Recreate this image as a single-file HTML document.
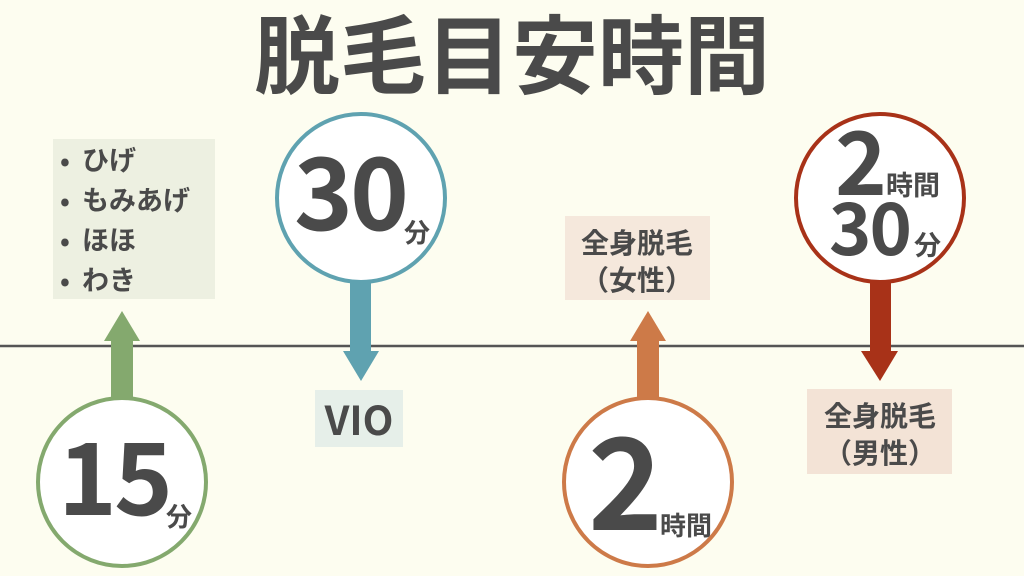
<!DOCTYPE html>
<html><head><meta charset="utf-8"><style>
html,body{margin:0;padding:0;background:#fdfdf0;}
svg{display:block}
text{font-family:"Liberation Sans","Noto Sans CJK JP",sans-serif;font-weight:bold;fill:#4a4a4a}
.j{font-family:"Noto Sans CJK JP",sans-serif}
</style></head><body>
<svg width="1024" height="576" viewBox="0 0 1024 576" xmlns="http://www.w3.org/2000/svg">
<rect width="1024" height="576" fill="#fdfdf0"/>
<text class="j" x="512" y="87" font-size="86" text-anchor="middle">脱毛目安時間</text>
<line x1="0" y1="346" x2="1024" y2="346" stroke="#555" stroke-width="2.5"/>

<!-- green -->
<rect x="53" y="139" width="162" height="160" fill="#edf0e1"/>
<text class="j" x="60" y="170" font-size="26">•</text><text class="j" x="82" y="170" font-size="27">ひげ</text>
<text class="j" x="60" y="210" font-size="26">•</text><text class="j" x="82" y="210" font-size="27">もみあげ</text>
<text class="j" x="60" y="250" font-size="26">•</text><text class="j" x="82" y="250" font-size="27">ほほ</text>
<text class="j" x="60" y="290" font-size="26">•</text><text class="j" x="82" y="290" font-size="27">わき</text>
<rect x="111" y="340" width="22" height="60" fill="#84a96e"/>
<polygon points="104,341 140,341 122,311" fill="#84a96e"/>
<circle cx="122" cy="482" r="84" fill="#fff" stroke="#84a96e" stroke-width="4"/>
<text class="j" x="58" y="515" font-size="100" letter-spacing="-3">15</text>
<text class="j" x="166" y="526" font-size="26">分</text>

<!-- teal -->
<rect x="350" y="280" width="21" height="72" fill="#5fa2b0"/>
<polygon points="343,351 379,351 361,381" fill="#5fa2b0"/>
<circle cx="361" cy="198" r="84" fill="#fff" stroke="#5fa2b0" stroke-width="4"/>
<text class="j" x="294" y="230" font-size="100" letter-spacing="-3">30</text>
<text class="j" x="404" y="242" font-size="26">分</text>
<rect x="315" y="390" width="88" height="57" fill="#e6efe9"/>
<text class="j" x="359" y="435" font-size="40" text-anchor="middle">VIO</text>

<!-- orange -->
<rect x="565" y="216" width="145" height="84" fill="#f5e8dc"/>
<text class="j" x="637" y="253" font-size="28" text-anchor="middle">全身脱毛</text>
<text class="j" x="637" y="290" font-size="28" text-anchor="middle">（女性）</text>
<rect x="637" y="340" width="22" height="60" fill="#cd7a48"/>
<polygon points="630,341 666,341 648,311" fill="#cd7a48"/>
<circle cx="648" cy="482" r="84" fill="#fff" stroke="#cd7a48" stroke-width="4"/>
<text class="j" x="588" y="530" font-size="127">2</text>
<text class="j" x="660" y="535" font-size="26">時間</text>

<!-- red -->
<rect x="870" y="280" width="21" height="72" fill="#a83218"/>
<polygon points="861,351 898,351 880,381" fill="#a83218"/>
<circle cx="880" cy="198" r="84" fill="#fff" stroke="#a83218" stroke-width="4"/>
<text class="j" x="835" y="195" font-size="88">2</text>
<text class="j" x="886" y="195" font-size="27">時間</text>
<text class="j" x="829" y="255" font-size="72" letter-spacing="-2">30</text>
<text class="j" x="914" y="255" font-size="27">分</text>
<rect x="807" y="389" width="145" height="85" fill="#f3e3d6"/>
<text class="j" x="880" y="426" font-size="28" text-anchor="middle">全身脱毛</text>
<text class="j" x="880" y="463" font-size="28" text-anchor="middle">（男性）</text>
</svg>
</body></html>
